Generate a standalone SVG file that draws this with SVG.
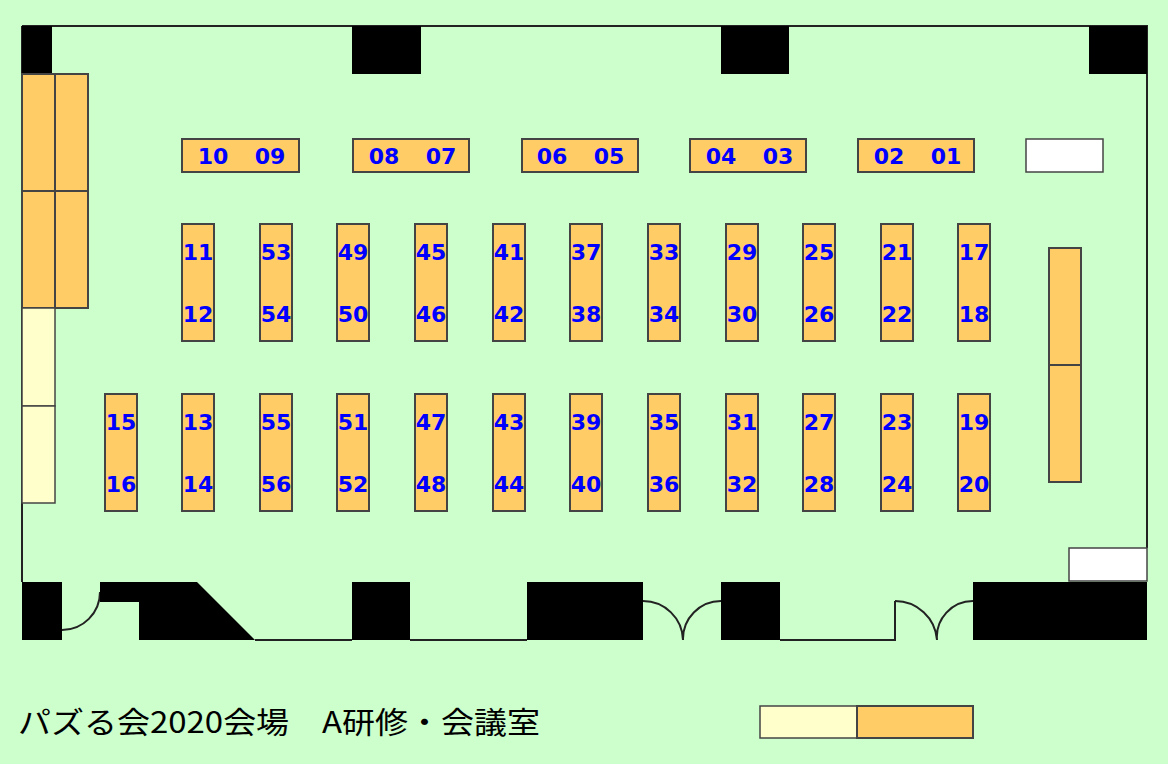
<svg xmlns="http://www.w3.org/2000/svg" width="1168" height="764" viewBox="0 0 1168 764">
<style>
.t{fill:#ffcc66;stroke:#444;stroke-width:2}
.p{fill:#ffffcc;stroke:#444;stroke-width:1.5}
.w{fill:#fff;stroke:#444;stroke-width:1.5}
.b{fill:#000}
.l{fill:none;stroke:#222;stroke-width:2}
.n{font-family:"DejaVu Sans",sans-serif;font-weight:bold;font-size:22px;fill:#0000ff;text-anchor:middle}
</style>
<rect width="1168" height="764" fill="#ccffcc"/>
<g id="walls">
<path class="l" d="M22,26 H1147 V548 M22,26 V582 M255,640 H352 M410,640 H527 M780,640 H895 V601"/>
<path class="l" d="M62,630 A38,38 0 0 0 100,592 M643,601 A40,40 0 0 1 683,640 A38,38 0 0 1 721,601 M895,601 A42,42 0 0 1 937,640 A36,36 0 0 1 973,601"/>
<rect class="b" x="22" y="26" width="30" height="48"/>
<rect class="b" x="352" y="26" width="69" height="48"/>
<rect class="b" x="721" y="26" width="68" height="48"/>
<rect class="b" x="1089" y="26" width="58" height="48"/>
<rect class="b" x="22" y="582" width="40" height="58"/>
<path class="b" d="M100,582 H197 L255,640 H139 V602 H100 Z"/>
<rect class="b" x="352" y="582" width="58" height="58"/>
<rect class="b" x="527" y="582" width="116" height="58"/>
<rect class="b" x="721" y="582" width="59" height="58"/>
<rect class="b" x="973" y="582" width="174" height="58"/>
<rect class="w" x="1069" y="548" width="78" height="33"/>
<rect class="w" x="1026" y="139" width="77" height="33"/>
</g>
<g id="side-tables">
<rect class="t" x="22" y="74" width="33" height="117"/><rect class="t" x="55" y="74" width="33" height="117"/>
<rect class="t" x="22" y="191" width="33" height="117"/><rect class="t" x="55" y="191" width="33" height="117"/>
<rect class="p" x="22" y="308" width="33" height="98"/><rect class="p" x="22" y="406" width="33" height="97"/>
<rect class="t" x="1049" y="248" width="32" height="117"/><rect class="t" x="1049" y="365" width="32" height="117"/>
</g>
<g id="top-tables">
<rect class="t" x="182" y="139" width="117" height="33"/><text class="n" x="213" y="164">10</text><text class="n" x="270" y="164">09</text>
<rect class="t" x="353" y="139" width="116" height="33"/><text class="n" x="384" y="164">08</text><text class="n" x="441" y="164">07</text>
<rect class="t" x="522" y="139" width="116" height="33"/><text class="n" x="552" y="164">06</text><text class="n" x="609" y="164">05</text>
<rect class="t" x="690" y="139" width="116" height="33"/><text class="n" x="721" y="164">04</text><text class="n" x="778" y="164">03</text>
<rect class="t" x="858" y="139" width="116" height="33"/><text class="n" x="889" y="164">02</text><text class="n" x="946" y="164">01</text>
</g>
<g id="row1">
<rect class="t" x="182" y="224" width="32" height="117"/><text class="n" x="198" y="260">11</text><text class="n" x="198" y="322">12</text>
<rect class="t" x="260" y="224" width="32" height="117"/><text class="n" x="276" y="260">53</text><text class="n" x="276" y="322">54</text>
<rect class="t" x="337" y="224" width="32" height="117"/><text class="n" x="353" y="260">49</text><text class="n" x="353" y="322">50</text>
<rect class="t" x="415" y="224" width="32" height="117"/><text class="n" x="431" y="260">45</text><text class="n" x="431" y="322">46</text>
<rect class="t" x="493" y="224" width="32" height="117"/><text class="n" x="509" y="260">41</text><text class="n" x="509" y="322">42</text>
<rect class="t" x="570" y="224" width="32" height="117"/><text class="n" x="586" y="260">37</text><text class="n" x="586" y="322">38</text>
<rect class="t" x="648" y="224" width="32" height="117"/><text class="n" x="664" y="260">33</text><text class="n" x="664" y="322">34</text>
<rect class="t" x="726" y="224" width="32" height="117"/><text class="n" x="742" y="260">29</text><text class="n" x="742" y="322">30</text>
<rect class="t" x="803" y="224" width="32" height="117"/><text class="n" x="819" y="260">25</text><text class="n" x="819" y="322">26</text>
<rect class="t" x="881" y="224" width="32" height="117"/><text class="n" x="897" y="260">21</text><text class="n" x="897" y="322">22</text>
<rect class="t" x="958" y="224" width="32" height="117"/><text class="n" x="974" y="260">17</text><text class="n" x="974" y="322">18</text>
</g>
<g id="row2">
<rect class="t" x="105" y="394" width="32" height="117"/><text class="n" x="121" y="430">15</text><text class="n" x="121" y="492">16</text>
<rect class="t" x="182" y="394" width="32" height="117"/><text class="n" x="198" y="430">13</text><text class="n" x="198" y="492">14</text>
<rect class="t" x="260" y="394" width="32" height="117"/><text class="n" x="276" y="430">55</text><text class="n" x="276" y="492">56</text>
<rect class="t" x="337" y="394" width="32" height="117"/><text class="n" x="353" y="430">51</text><text class="n" x="353" y="492">52</text>
<rect class="t" x="415" y="394" width="32" height="117"/><text class="n" x="431" y="430">47</text><text class="n" x="431" y="492">48</text>
<rect class="t" x="493" y="394" width="32" height="117"/><text class="n" x="509" y="430">43</text><text class="n" x="509" y="492">44</text>
<rect class="t" x="570" y="394" width="32" height="117"/><text class="n" x="586" y="430">39</text><text class="n" x="586" y="492">40</text>
<rect class="t" x="648" y="394" width="32" height="117"/><text class="n" x="664" y="430">35</text><text class="n" x="664" y="492">36</text>
<rect class="t" x="726" y="394" width="32" height="117"/><text class="n" x="742" y="430">31</text><text class="n" x="742" y="492">32</text>
<rect class="t" x="803" y="394" width="32" height="117"/><text class="n" x="819" y="430">27</text><text class="n" x="819" y="492">28</text>
<rect class="t" x="881" y="394" width="32" height="117"/><text class="n" x="897" y="430">23</text><text class="n" x="897" y="492">24</text>
<rect class="t" x="958" y="394" width="32" height="117"/><text class="n" x="974" y="430">19</text><text class="n" x="974" y="492">20</text>
</g>
<g id="legend">
<text x="18" y="733" font-family="'Noto Sans CJK JP',sans-serif" font-size="30" textLength="522" lengthAdjust="spacingAndGlyphs" fill="#000">パズる会2020会場　A研修・会議室</text>
<rect class="p" x="760" y="706" width="97" height="32"/>
<rect class="t" x="857" y="706" width="116" height="32"/>
</g>
</svg>
